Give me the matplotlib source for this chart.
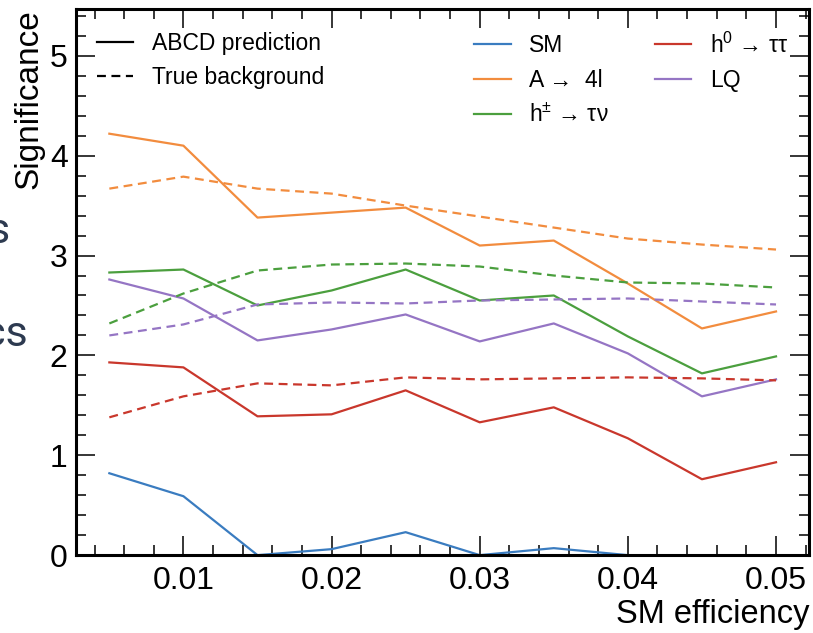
import numpy as np
import matplotlib
matplotlib.use("Agg")
from matplotlib import pyplot as plt
from matplotlib.lines import Line2D
from matplotlib.ticker import MultipleLocator

plt.rcParams['font.family'] = ['Liberation Sans', 'DejaVu Sans']
plt.rcParams['mathtext.fontset'] = 'custom'
plt.rcParams['mathtext.rm'] = 'Liberation Sans'
plt.rcParams['mathtext.it'] = 'Liberation Sans:italic'
plt.rcParams['mathtext.default'] = 'regular'

# SM efficiency working points
eff = [0.005, 0.01, 0.015, 0.02, 0.025, 0.03, 0.035, 0.04, 0.045, 0.05]

# significance, ABCD prediction (solid) and true background (dashed)
sm_abcd = [0.82, 0.59, 0.0, 0.06, 0.23, 0.0, 0.07, 0.0, 0.0, 0.0]
a4l_abcd = [4.22, 4.10, 3.38, 3.43, 3.48, 3.10, 3.15, 2.72, 2.27, 2.44]
a4l_true = [3.67, 3.79, 3.67, 3.62, 3.50, 3.39, 3.28, 3.17, 3.11, 3.06]
hpm_abcd = [2.83, 2.86, 2.50, 2.65, 2.86, 2.55, 2.60, 2.19, 1.82, 1.99]
hpm_true = [2.32, 2.62, 2.85, 2.91, 2.92, 2.89, 2.80, 2.73, 2.72, 2.68]
h0_abcd = [1.93, 1.88, 1.39, 1.41, 1.65, 1.33, 1.48, 1.17, 0.76, 0.93]
h0_true = [1.38, 1.59, 1.72, 1.70, 1.78, 1.76, 1.77, 1.78, 1.77, 1.75]
lq_abcd = [2.76, 2.57, 2.15, 2.26, 2.41, 2.14, 2.32, 2.02, 1.59, 1.76]
lq_true = [2.20, 2.31, 2.51, 2.53, 2.52, 2.55, 2.56, 2.57, 2.54, 2.51]

fig = plt.figure(figsize=(8.13, 6.33), dpi=100)
ax = fig.add_axes([0.0935, 0.123, 0.902, 0.863])

lw = 1.6
dash = (0, (4, 2.5))
ax.plot(eff, sm_abcd, color='#3a7cc0', lw=lw, label='SM')
ax.plot(eff, a4l_abcd, color='#f28c3e', lw=lw, label='A →  4l')
ax.plot(eff, hpm_abcd, color='#4b9f3e', lw=lw, label=r'h$^{\pm}$ → τν')
ax.plot(eff, h0_abcd, color='#c9372c', lw=lw, label=r'h$^0$ → ττ')
ax.plot(eff, lq_abcd, color='#9575c4', lw=lw, label='LQ')
ax.plot(eff, a4l_true, color='#f28c3e', lw=lw, ls=dash)
ax.plot(eff, hpm_true, color='#4b9f3e', lw=lw, ls=dash)
ax.plot(eff, h0_true, color='#c9372c', lw=lw, ls=dash)
ax.plot(eff, lq_true, color='#9575c4', lw=lw, ls=dash)

ax.set_xlim(0.00275, 0.05225)
ax.set_ylim(0, 5.47)
ax.xaxis.set_major_locator(MultipleLocator(0.01))
ax.xaxis.set_minor_locator(MultipleLocator(0.002))
ax.yaxis.set_major_locator(MultipleLocator(1))
ax.yaxis.set_minor_locator(MultipleLocator(0.2))
ax.tick_params(which='both', direction='in', top=True, right=True, width=1.1)
ax.tick_params(which='major', length=14, labelsize=23, pad=8)
ax.tick_params(which='minor', length=7)
ax.tick_params(axis='y', pad=6)
for s in ax.spines.values():
    s.set_linewidth(2.2)

ax.set_xlabel('SM efficiency', fontsize=23.5, loc='right', labelpad=2)
ax.set_ylabel('Significance', fontsize=24, loc='top', labelpad=4)

style_handles = [Line2D([], [], color='black', lw=lw),
                 Line2D([], [], color='black', lw=lw, ls=dash)]
leg1 = ax.legend(style_handles, ['ABCD prediction', 'True background'],
                 loc='upper left', bbox_to_anchor=(0.0, 0.995), fontsize=16.5,
                 frameon=False, handlelength=1.6, labelspacing=0.45,
                 borderaxespad=0.5)
ax.add_artist(leg1)
ax.legend(loc='upper left', bbox_to_anchor=(0.515, 0.995), ncol=2, fontsize=16.5,
          frameon=False, handlelength=1.6, labelspacing=0.5,
          columnspacing=2.0, borderaxespad=0.5)

# fragments of slide text at the left edge
fig.text(10 / 813, 1 - 232 / 633, 's', fontsize=31, color='#2d3a50',
         ha='right', va='center', family='Roboto')
fig.text(28 / 813, 1 - 334 / 633, 'cs', fontsize=31, color='#2d3a50',
         ha='right', va='center', family='Roboto')

fig.savefig('out.png', dpi=100)
